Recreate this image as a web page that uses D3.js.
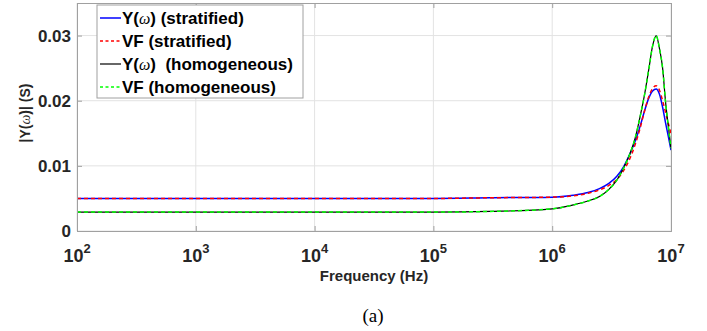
<!DOCTYPE html>
<html>
<head>
<meta charset="utf-8">
<script src="https://cdn.jsdelivr.net/npm/d3@7"></script>
<style>
    body { margin: 0; background: #fff; }
</style>
</head>
<body>
<div id="chart"></div>
<script>
// frequency points (Hz)
const freq = [1e2, 1e3, 1e4, 1e5, 3e5, 1e6, 1.5e6, 2e6, 2.5e6, 3e6, 3.5e6, 4e6, 4.5e6, 5e6,
    5.5e6, 6e6, 6.5e6, 7e6, 7.5e6, 8e6, 8.5e6, 9e6, 9.5e6, 1e7];

// |Y(w)| in S
const yStratified = [0.0050, 0.0050, 0.0050, 0.0050, 0.0051, 0.0052, 0.0055, 0.0059, 0.0065, 0.0073,
    0.0084, 0.0099, 0.0118, 0.0138, 0.0161, 0.0185, 0.0204, 0.0215, 0.0218, 0.0210, 0.0190, 0.0166, 0.0145, 0.0124];
const vfStratified = [0.0050, 0.0050, 0.0050, 0.0050, 0.0051, 0.0052, 0.0054, 0.0058, 0.0063, 0.0070,
    0.0079, 0.0093, 0.0111, 0.0133, 0.0158, 0.0185, 0.0206, 0.0219, 0.0223, 0.0216, 0.0200, 0.0182, 0.0165, 0.0150];
const yHomogeneous = [0.0029, 0.0029, 0.0029, 0.0029, 0.0030, 0.0034, 0.0040, 0.0046, 0.0053, 0.0064,
    0.0078, 0.0097, 0.0118, 0.0143, 0.0176, 0.0210, 0.0248, 0.0284, 0.0300, 0.0280, 0.0250, 0.0198, 0.0160, 0.0127];
const vfHomogeneous = [0.0029, 0.0029, 0.0029, 0.0029, 0.0030, 0.0034, 0.0040, 0.0046, 0.0053, 0.0064,
    0.0078, 0.0097, 0.0118, 0.0143, 0.0176, 0.0210, 0.0248, 0.0284, 0.0300, 0.0280, 0.0250, 0.0198, 0.0160, 0.0127];

const xTicks = [1e2, 1e3, 1e4, 1e5, 1e6, 1e7];
const yTicks = [0, 0.01, 0.02, 0.03];

const seriesNames = ["Y(ω) (stratified)", "VF (stratified)", "Y(ω)  (homogeneous)", "VF (homogeneous)"];
const seriesValues = [yStratified, vfStratified, yHomogeneous, vfHomogeneous];

const styles = [
    {color: "#0000ff", width: 1.5, dash: null},
    {color: "#ff0000", width: 1.5, dash: "4,3"},
    {color: "#000000", width: 1.2, dash: null},
    {color: "#00ff00", width: 1.5, dash: "4,3"}
];

const sans = "'Liberation Sans', Arial, sans-serif";
const serif = "'Liberation Serif', 'DejaVu Serif', serif";

const W = 707, H = 331;
const margin = {top: 3, left: 77};
const width = 671 - margin.left;
const height = 231 - margin.top;

const svg = d3.select("#chart")
    .append("svg")
    .attr("width", W)
    .attr("height", H)
    .style("font-family", sans);

const g = svg.append("g")
    .attr("transform", "translate(" + margin.left + "," + margin.top + ")");

const x = d3.scaleLog().domain([1e2, 1e7]).range([0, width]);
const y = d3.scaleLinear().domain([0, 0.035]).range([height, 0]);

// grid
g.append("g").selectAll("line")
    .data(xTicks)
    .enter().append("line")
    .attr("x1", d => x(d)).attr("x2", d => x(d))
    .attr("y1", 0).attr("y2", height)
    .attr("stroke", "#e3e3e3").attr("stroke-width", 1);
g.append("g").selectAll("line")
    .data(yTicks)
    .enter().append("line")
    .attr("x1", 0).attr("x2", width)
    .attr("y1", d => y(d)).attr("y2", d => y(d))
    .attr("stroke", "#e3e3e3").attr("stroke-width", 1);

// curves
const line = d3.line()
    .x(d => x(d[0]))
    .y(d => y(d[1]))
    .curve(d3.curveMonotoneX);

seriesValues.forEach((vals, i) => {
    const pts = freq.map((f, j) => [f, vals[j]]);
    g.append("path")
        .datum(pts)
        .attr("fill", "none")
        .attr("stroke", styles[i].color)
        .attr("stroke-width", styles[i].width)
        .attr("stroke-dasharray", styles[i].dash)
        .attr("d", line);
});

// axes box and ticks (inward)
const axisColor = "#a0a0a0";
g.append("g").attr("transform", "translate(0," + height + ")")
    .call(d3.axisBottom(x).tickValues(xTicks).tickSize(-5).tickFormat(""));
g.append("g")
    .call(d3.axisTop(x).tickValues(xTicks).tickSize(-5).tickFormat(""));
g.append("g")
    .call(d3.axisLeft(y).tickValues(yTicks).tickSize(-5).tickFormat(""));
g.append("g").attr("transform", "translate(" + width + ",0)")
    .call(d3.axisRight(y).tickValues(yTicks).tickSize(-5).tickFormat(""));
g.selectAll(".domain, .tick line").attr("stroke", axisColor);

// y tick labels
g.append("g").selectAll("text")
    .data(yTicks)
    .enter().append("text")
    .attr("x", -6)
    .attr("y", d => y(d))
    .attr("dy", "0.36em")
    .attr("text-anchor", "end")
    .attr("font-size", "17px")
    .attr("font-weight", "bold")
    .attr("fill", "#262626")
    .text(d => d === 0 ? "0" : d3.format(".2f")(d));

// x tick labels 10^n
const xl = g.append("g").selectAll("text")
    .data(xTicks)
    .enter().append("text")
    .attr("x", d => x(d))
    .attr("y", height + 31)
    .attr("text-anchor", "middle")
    .attr("font-weight", "bold")
    .attr("fill", "#262626");
xl.append("tspan").attr("font-size", "18px").text("10");
xl.append("tspan").attr("font-size", "13px").attr("dy", "-9").text(d => Math.round(Math.log10(d)));

// axis titles
g.append("text")
    .attr("x", width / 2)
    .attr("y", height + 50)
    .attr("text-anchor", "middle")
    .attr("font-size", "15px")
    .attr("font-weight", "bold")
    .attr("fill", "#262626")
    .text("Frequency (Hz)");

const yl = svg.append("text")
    .attr("transform", "translate(30," + 113 + ") rotate(-90)")
    .attr("text-anchor", "middle")
    .attr("font-size", "14px")
    .attr("font-weight", "bold")
    .attr("fill", "#262626");
yl.append("tspan").text("|Y(");
yl.append("tspan").style("font-family", serif).style("font-style", "italic")
    .style("font-weight", "normal").text("ω");
yl.append("tspan").text(")| (S)");

// caption
svg.append("text")
    .attr("x", 373)
    .attr("y", 322)
    .attr("text-anchor", "middle")
    .style("font-family", serif)
    .attr("font-size", "19px")
    .attr("fill", "#000")
    .text("(a)");

// legend
const legend = svg.append("g").attr("transform", "translate(97,5)");
legend.append("rect")
    .attr("width", 206).attr("height", 93)
    .attr("fill", "#fff")
    .attr("stroke", axisColor).attr("stroke-width", 1);
const rows = legend.selectAll(".row")
    .data(seriesNames)
    .enter().append("g")
    .attr("class", "row")
    .attr("transform", (d, i) => "translate(0," + (13 + i * 23) + ")");
rows.append("line")
    .attr("x1", 3).attr("x2", 24)
    .attr("stroke", (d, i) => styles[i].color)
    .attr("stroke-width", (d, i) => styles[i].width)
    .attr("stroke-dasharray", (d, i) => styles[i].dash ? "3,2.5" : null);
rows.each(function (d) {
    const t = d3.select(this).append("text")
        .attr("x", 25)
        .attr("dy", "0.36em")
        .attr("font-size", "17px")
        .attr("font-weight", "bold")
        .attr("fill", "#000")
        .attr("xml:space", "preserve");
    const parts = d.split("ω");
    t.append("tspan").text(parts[0]);
    if (parts.length > 1) {
        t.append("tspan").style("font-family", serif).style("font-style", "italic")
            .style("font-weight", "normal").attr("font-size", "16px").text("ω");
        t.append("tspan").text(parts[1]);
    }
});
</script>
</body>
</html>
